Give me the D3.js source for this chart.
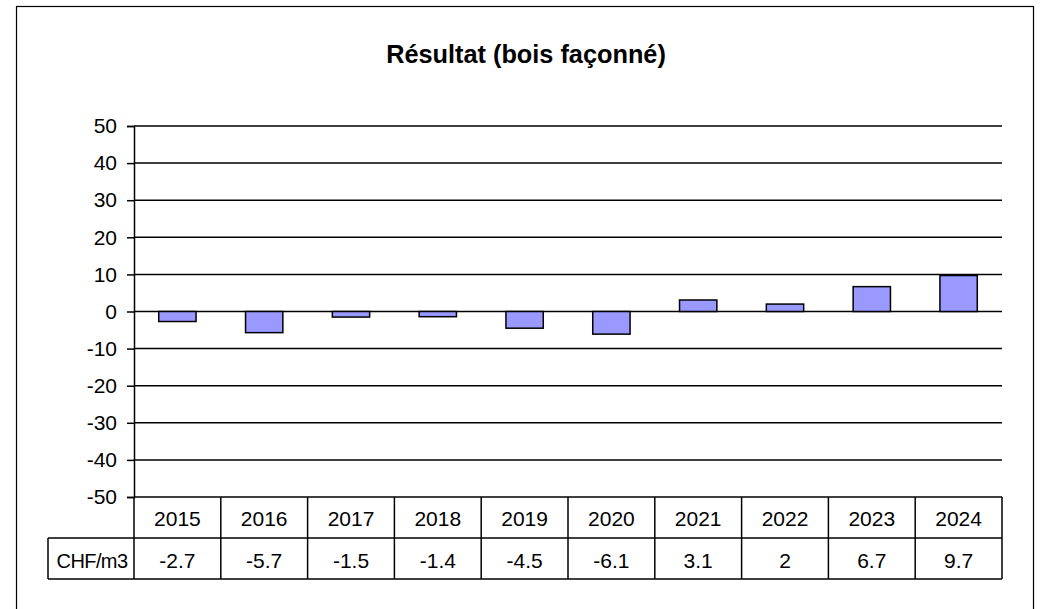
<!DOCTYPE html>
<html>
<head>
<meta charset="utf-8">
<script src="https://cdn.jsdelivr.net/npm/d3@7"></script>
<style>
  body { margin: 0; background: #fff; }
  text { font-family: "Liberation Sans", Arial, sans-serif; fill: #000; }
</style>
</head>
<body>
<div id="chart"></div>
<script>
const years = ['2015', '2016', '2017', '2018', '2019', '2020', '2021', '2022', '2023', '2024'];
const values = [-2.7, -5.7, -1.5, -1.4, -4.5, -6.1, 3.1, 2, 6.7, 9.7];
const yTicks = [50, 40, 30, 20, 10, 0, -10, -20, -30, -40, -50];
const seriesName = 'CHF/m3';
const title = 'Résultat (bois façonné)';

const width = 1043;
const height = 609;
const plot = { left: 134, right: 1002, top: 126, bottom: 497 };
const rowH = 41;
const fontSize = '21px';

const svg = d3.select('#chart')
  .append('svg')
  .attr('width', width)
  .attr('height', height);

// outer frame
svg.append('rect')
  .attr('x', 16.5).attr('y', 6.5)
  .attr('width', 1017).attr('height', 640)
  .attr('fill', 'none').attr('stroke', '#000').attr('stroke-width', 1.2);

svg.append('text')
  .attr('x', 526).attr('y', 63)
  .attr('text-anchor', 'middle')
  .style('font-size', '25.3px').style('font-weight', 'bold')
  .text(title);

const x = d3.scaleBand()
  .domain(years)
  .range([plot.left, plot.right])
  .paddingInner(0.57)
  .paddingOuter(0.285);

const col = d3.scaleBand()
  .domain(years)
  .range([plot.left, plot.right]);

const y = d3.scaleLinear()
  .domain([-50, 50])
  .range([plot.bottom, plot.top]);

// gridlines
svg.append('g')
  .selectAll('line')
  .data(yTicks)
  .enter().append('line')
  .attr('x1', plot.left).attr('x2', plot.right)
  .attr('y1', d => y(d)).attr('y2', d => y(d))
  .attr('stroke', '#000').attr('stroke-width', 1.5);

// y axis
const yAxis = d3.axisLeft(y)
  .tickValues(yTicks)
  .tickFormat(d => String(d))
  .tickSize(7)
  .tickPadding(10);

const ya = svg.append('g')
  .attr('transform', `translate(${plot.left},0)`)
  .call(yAxis);
ya.select('.domain').attr('stroke', '#000').attr('stroke-width', 1.5);
ya.selectAll('.tick line').attr('stroke', '#000').attr('stroke-width', 1.5);
ya.selectAll('.tick text')
  .attr('fill', '#000')
  .style('font-size', fontSize)
  .style('font-family', '"Liberation Sans", Arial, sans-serif');

// bars
svg.append('g')
  .selectAll('rect')
  .data(values)
  .enter().append('rect')
  .attr('x', (d, i) => x(years[i]))
  .attr('width', x.bandwidth())
  .attr('y', d => y(Math.max(0, d)))
  .attr('height', d => Math.abs(y(d) - y(0)))
  .attr('fill', '#9999ff')
  .attr('stroke', '#000')
  .attr('stroke-width', 1.5);

// data table
const table = svg.append('g')
  .attr('stroke', '#000').attr('stroke-width', 1.5);

const t0 = plot.bottom;
const t1 = t0 + rowH;
const t2 = t1 + rowH;
const labelLeft = 48;

table.append('line').attr('x1', plot.left).attr('x2', plot.right).attr('y1', t1).attr('y2', t1);
table.append('line').attr('x1', labelLeft).attr('x2', plot.left).attr('y1', t1).attr('y2', t1);
table.append('line').attr('x1', labelLeft).attr('x2', plot.right).attr('y1', t2).attr('y2', t2);
table.append('line').attr('x1', labelLeft).attr('x2', labelLeft).attr('y1', t1).attr('y2', t2);

table.selectAll('.vline')
  .data(years.concat(['end']))
  .enter().append('line')
  .attr('class', 'vline')
  .attr('x1', (d, i) => i < years.length ? col(d) : plot.right)
  .attr('x2', (d, i) => i < years.length ? col(d) : plot.right)
  .attr('y1', t0).attr('y2', t2);

svg.append('g')
  .selectAll('text')
  .data(years)
  .enter().append('text')
  .attr('x', d => col(d) + col.bandwidth() / 2)
  .attr('y', t0 + 29)
  .attr('text-anchor', 'middle')
  .style('font-size', fontSize)
  .text(d => d);

svg.append('g')
  .selectAll('text')
  .data(values)
  .enter().append('text')
  .attr('x', (d, i) => col(years[i]) + col.bandwidth() / 2)
  .attr('y', t1 + 30)
  .attr('text-anchor', 'middle')
  .style('font-size', fontSize)
  .text(d => String(d));

svg.append('text')
  .attr('x', (labelLeft + plot.left) / 2 + 1)
  .attr('y', t1 + 30)
  .attr('text-anchor', 'middle')
  .style('font-size', '20px')
  .style('letter-spacing', '-0.6px')
  .text(seriesName);
</script>
</body>
</html>
